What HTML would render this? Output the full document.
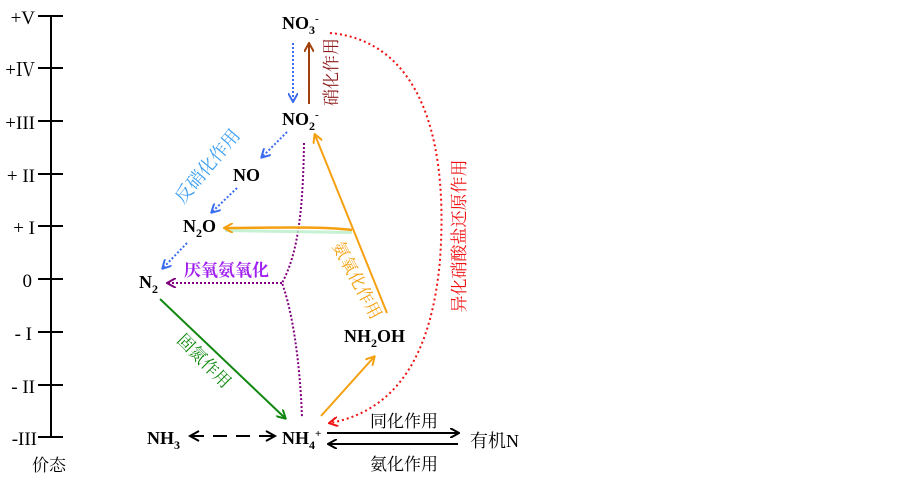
<!DOCTYPE html>
<html><head><meta charset="utf-8"><style>
html,body{margin:0;padding:0;background:#fff;}
svg{display:block;}
text{font-family:"Liberation Serif","Noto Serif CJK SC",serif;}
.cj{font-family:"Liberation Serif","Noto Serif CJK SC",serif;}
.b{font-weight:bold;font-size:18px;}
</style></head><body>
<svg width="900" height="478" viewBox="0 0 900 478" xmlns="http://www.w3.org/2000/svg">
<defs>
<marker id="ak" markerWidth="10" markerHeight="10" refX="8" refY="5" orient="auto" markerUnits="userSpaceOnUse"><path d="M0,0 L9,5 L0,10" fill="none" stroke="#000" stroke-width="2"/></marker>
<marker id="ab" markerWidth="10" markerHeight="10" refX="8" refY="5" orient="auto" markerUnits="userSpaceOnUse"><path d="M0,0 L9,5 L0,10" fill="none" stroke="#3a6cf0" stroke-width="2"/></marker>
<marker id="abr" markerWidth="10" markerHeight="10" refX="8" refY="5" orient="auto" markerUnits="userSpaceOnUse"><path d="M0,0 L9,5 L0,10" fill="none" stroke="#a0400a" stroke-width="2"/></marker>
<marker id="ao" markerWidth="10" markerHeight="10" refX="8" refY="5" orient="auto" markerUnits="userSpaceOnUse"><path d="M0,0 L9,5 L0,10" fill="none" stroke="#f5a010" stroke-width="2"/></marker>
<marker id="ap" markerWidth="10" markerHeight="10" refX="8" refY="5" orient="auto" markerUnits="userSpaceOnUse"><path d="M0,0 L9,5 L0,10" fill="none" stroke="#800080" stroke-width="2"/></marker>
<marker id="ag" markerWidth="10" markerHeight="10" refX="8" refY="5" orient="auto" markerUnits="userSpaceOnUse"><path d="M0,0 L9,5 L0,10" fill="none" stroke="#118811" stroke-width="2"/></marker>
<marker id="ar" markerWidth="10" markerHeight="10" refX="8" refY="5" orient="auto" markerUnits="userSpaceOnUse"><path d="M0,0 L9,5 L0,10" fill="none" stroke="#f01010" stroke-width="2"/></marker>
</defs>
<!-- axis -->
<line x1="51" y1="15" x2="51" y2="437" stroke="#000" stroke-width="2"/>
<g stroke="#000" stroke-width="2">
<line x1="38" y1="16" x2="63" y2="16"/><line x1="38" y1="68" x2="63" y2="68"/><line x1="38" y1="121" x2="63" y2="121"/>
<line x1="38" y1="174" x2="63" y2="174"/><line x1="38" y1="226" x2="63" y2="226"/><line x1="38" y1="279" x2="63" y2="279"/>
<line x1="38" y1="332" x2="63" y2="332"/><line x1="38" y1="385" x2="63" y2="385"/><line x1="38" y1="437" x2="63" y2="437"/>
</g>
<g font-size="19" text-anchor="end">
<text x="35" y="24">+V</text><text x="35" y="76">+Ⅳ</text><text x="35" y="129">+III</text>
<text x="35" y="182">+ II</text><text x="35" y="234">+ I</text><text x="32" y="287">0</text>
<text x="32" y="340">- I</text><text x="35" y="393">- II</text><text x="37" y="445">-III</text>
</g>
<text x="32" y="471" font-size="17" class="cj">价态</text>

<!-- species -->
<text x="282" y="29" class="b">NO<tspan font-size="12" dy="5">3</tspan><tspan font-size="11" dy="-12">-</tspan></text>
<text x="282" y="125" class="b">NO<tspan font-size="12" dy="5">2</tspan><tspan font-size="11" dy="-12">-</tspan></text>
<text x="233" y="181" class="b">NO</text>
<text x="183" y="232" class="b">N<tspan font-size="12" dy="5">2</tspan><tspan dy="-5">O</tspan></text>
<text x="139" y="288" class="b">N<tspan font-size="12" dy="5">2</tspan></text>
<text x="344" y="342" class="b">NH<tspan font-size="12" dy="5">2</tspan><tspan dy="-5">OH</tspan></text>
<text x="147" y="444" class="b">NH<tspan font-size="12" dy="5">3</tspan></text>
<text x="282" y="444" class="b">NH<tspan font-size="12" dy="5">4</tspan><tspan font-size="11" dy="-12">+</tspan></text>
<text x="470" y="447" font-size="18" class="cj">有机N</text>

<!-- nitrification -->
<line x1="309" y1="104" x2="309" y2="44" stroke="#a0400a" stroke-width="2" marker-end="url(#abr)"/>
<text transform="translate(337,72) rotate(-90)" text-anchor="middle" font-size="17" fill="#8b1a1a" class="cj">硝化作用</text>
<line x1="293" y1="43" x2="293" y2="101" stroke="#3a6cf0" stroke-width="2" stroke-dasharray="2,2" marker-end="url(#ab)"/>
<!-- denitrification -->
<line x1="287" y1="132" x2="262" y2="157" stroke="#3a6cf0" stroke-width="2" stroke-dasharray="2,2" marker-end="url(#ab)"/>
<line x1="237" y1="188" x2="212" y2="212" stroke="#3a6cf0" stroke-width="2" stroke-dasharray="2,2" marker-end="url(#ab)"/>
<line x1="187" y1="243" x2="163" y2="268" stroke="#3a6cf0" stroke-width="2" stroke-dasharray="2,2" marker-end="url(#ab)"/>
<text transform="translate(212,170) rotate(-50)" text-anchor="middle" font-size="18" fill="#3fa0f0" class="cj">反硝化作用</text>
<!-- anammox -->
<path d="M304,143 C303,200 300,250 282,283 C292,310 300,360 302,418" fill="none" stroke="#800080" stroke-width="2" stroke-dasharray="2,2"/>
<line x1="282" y1="283" x2="168" y2="283" stroke="#800080" stroke-width="2" stroke-dasharray="2,2" marker-end="url(#ap)"/>
<text x="184" y="276" font-size="17" fill="#a020f0" class="cj" font-weight="bold">厌氧氨氧化</text>
<!-- ammonia oxidation -->
<path d="M225,229 L352,231 L352,234 L225,232 Z" fill="#b8eec8" opacity="0.8"/>
<line x1="387" y1="313" x2="315" y2="135" stroke="#f5a010" stroke-width="2" marker-end="url(#ao)"/>
<path d="M352,230 C320,226 270,228 225,228" fill="none" stroke="#f5a010" stroke-width="2.5" marker-end="url(#ao)"/>
<line x1="321" y1="416" x2="374" y2="357" stroke="#f5a010" stroke-width="2" marker-end="url(#ao)"/>
<text transform="translate(352,283) rotate(62)" text-anchor="middle" font-size="17" fill="#f5a010" class="cj">氨氧化作用</text>
<!-- DNRA -->
<path d="M330,33 C410,40 450,120 440,260 C432,350 400,410 330,423" fill="none" stroke="#f01010" stroke-width="2" stroke-dasharray="2,3" marker-end="url(#ar)"/>
<text transform="translate(465,236) rotate(-90)" text-anchor="middle" font-size="17" fill="#f01010" class="cj">异化硝酸盐还原作用</text>
<!-- fixation -->
<line x1="160" y1="299" x2="285" y2="418" stroke="#118811" stroke-width="2" marker-end="url(#ag)"/>
<text transform="translate(200,365) rotate(45)" text-anchor="middle" font-size="17" fill="#118811" class="cj">固氮作用</text>
<!-- NH3 -->
<line x1="190" y1="436" x2="274" y2="436" stroke="#000" stroke-width="2" stroke-dasharray="14,9"/>
<path d="M199,431 L190,436 L199,441" fill="none" stroke="#000" stroke-width="2"/>
<path d="M266,431 L275,436 L266,441" fill="none" stroke="#000" stroke-width="2"/>
<!-- assimilation -->
<line x1="327" y1="433" x2="458" y2="433" stroke="#000" stroke-width="2" marker-end="url(#ak)"/>
<line x1="458" y1="444" x2="329" y2="444" stroke="#000" stroke-width="2" marker-end="url(#ak)"/>
<text x="370" y="427" font-size="17" class="cj">同化作用</text>
<text x="370" y="470" font-size="17" class="cj">氨化作用</text>
</svg>
</body></html>
